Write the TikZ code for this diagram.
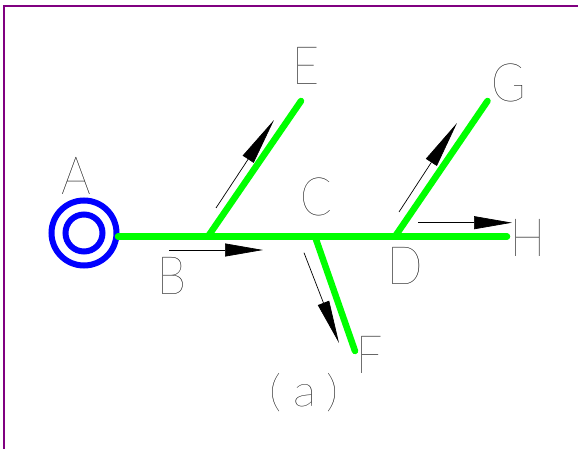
\documentclass[tikz,border=0pt]{standalone}
\usepackage{fontspec}
\usetikzlibrary{arrows.meta}
\newfontfamily\cadfont[FakeStretch=0.88]{Lato Thin}
\newfontfamily\capfont[FakeStretch=1.1]{Lato Thin}
\definecolor{framepurple}{HTML}{800080}
\definecolor{pipegreen}{HTML}{00FF00}
\definecolor{ringblue}{HTML}{0000FF}
\tikzset{
  x=1pt,y=-1pt,
  frameline/.style={framepurple,line width=2pt},
  pipe/.style={pipegreen,line width=6.5pt,line cap=round},
  ring/.style={draw=ringblue,line width=6pt,circle,inner sep=0pt},
  flow/.style={black,line width=0.7pt},
  lab/.style={inner sep=0pt,outer sep=0pt,font=\cadfont\fontsize{53}{53}\selectfont,text=black},
  capt/.style={inner sep=0pt,outer sep=0pt,font=\capfont\fontsize{44}{44}\selectfont,text=black}
}
\begin{document}
\begin{tikzpicture}
\useasboundingbox (0,0) rectangle (578,449);
\fill[white] (0,0) rectangle (578,449);
% frame
\coordinate (fa) at (4,449); \coordinate (fb) at (4,6); \coordinate (fc) at (578,6);
\draw[frameline] (fa) -- (fb) -- (fc);
% rings
\node[ring,minimum size=65pt] (outer) at (84,233) {};
\node[ring,minimum size=37pt] (inner) at (84,233) {};
% junctions and ends
\coordinate (s) at (118,236.5);
\coordinate (j1) at (208,236.5);
\coordinate (j2) at (315,236.5);
\coordinate (j3) at (395,236.5);
\coordinate (eH) at (507,236.5);
\coordinate (eE) at (301,101);
\coordinate (eG) at (487.5,101);
\coordinate (eF) at (355,351);
\draw[pipe] (s) -- (j1) -- (j2) -- (j3) -- (eH);
\draw[pipe] (j1) -- (eE);
\draw[pipe] (j3) -- (eG);
\draw[pipe] (j2) -- (eF);
% flow arrows
\coordinate (b0) at (169,250); \coordinate (b1) at (263,250);
\coordinate (e0) at (216,208); \coordinate (e1) at (274,120);
\coordinate (g0) at (399,212); \coordinate (g1) at (457,123);
\coordinate (h0) at (418,222.7); \coordinate (h1) at (512,222.7);
\coordinate (f0) at (304,252.7); \coordinate (f1) at (339,343);
\draw[flow,-{Triangle[length=38pt,width=13pt]}] (b0) -- (b1);
\draw[flow,-{Triangle[length=47pt,width=13pt]}] (e0) -- (e1);
\draw[flow,-{Triangle[length=47pt,width=13pt]}] (g0) -- (g1);
\draw[flow,-{Triangle[length=38pt,width=13pt]}] (h0) -- (h1);
\draw[flow,-{Triangle[length=43pt,width=12pt]}] (f0) -- (f1);
% labels
\node[lab] (lA) at (76.5,175.5) {A};
\node[lab] (lB) at (171.5,276) {B};
\node[lab] (lC) at (316,196.5) {C};
\node[lab] (lD) at (405,265.5) {D};
\node[lab] (lE) at (306.5,65.5) {E};
\node[lab] (lF) at (369.5,355) {F};
\node[lab] (lG) at (509,83) {G};
\node[lab] (lH) at (528,238) {H};
\node[capt] (cap) at (304.5,393) {(\hspace{11pt}a\hspace{11pt})};
\end{tikzpicture}
\end{document}
